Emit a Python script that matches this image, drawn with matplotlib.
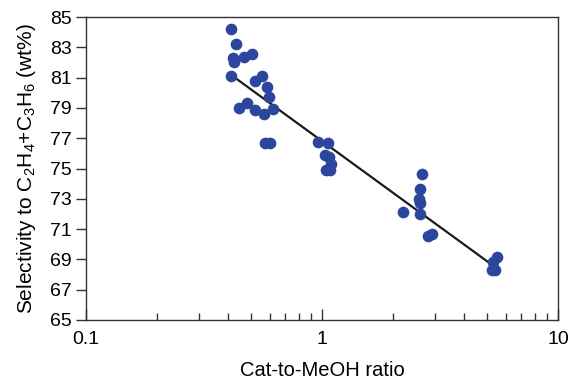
import matplotlib
matplotlib.use("Agg")
import matplotlib.pyplot as plt
import numpy as np

plt.rcParams['font.family'] = ['Liberation Sans', 'DejaVu Sans']
plt.rcParams['mathtext.default'] = 'regular'

# cat-to-MeOH ratio and selectivity (wt%)
ratio = [0.410, 0.431, 0.421, 0.425, 0.469, 0.504, 0.410, 0.520, 0.555,
         0.583, 0.598, 0.447, 0.483, 0.520, 0.568, 0.618, 0.576, 0.605,
         0.965, 1.063, 1.030, 1.097, 1.081, 1.040, 1.075,
         2.645, 2.610, 2.570, 2.610, 2.610, 2.198, 2.827, 2.925,
         5.50, 5.32, 5.24, 5.41]
selectivity = [84.21, 83.20, 82.27, 82.01, 82.34, 82.56, 81.11, 80.80, 81.13,
               80.35, 79.69, 79.01, 79.30, 78.89, 78.62, 78.93, 76.66, 76.66,
               76.78, 76.66, 75.89, 75.33, 74.90, 74.90, 75.75,
               74.62, 73.63, 72.97, 72.70, 72.02, 72.13, 70.54, 70.68,
               69.13, 68.85, 68.30, 68.27]

# trend line (log fit) over the plotted range
fit_intercept = 76.81
fit_slope = -11.34
fit_range = [0.41, 5.3]

fig = plt.figure(figsize=(5.71, 3.79), dpi=100)
ax = fig.add_axes([0.1506, 0.1557, 0.8266, 0.7994])

xf = np.logspace(np.log10(fit_range[0]), np.log10(fit_range[1]), 50)
ax.plot(xf, fit_intercept + fit_slope * np.log10(xf), color='#1a1a1a', lw=1.6, zorder=2)
ax.plot(ratio, selectivity, 'o', color='#2B469C', ms=8.4, mec='none', zorder=3)

ax.set_xscale('log')
ax.set_xlim(0.1, 10)
ax.set_ylim(65, 85)
ax.set_yticks(np.arange(65, 86, 2))
ax.set_xticks([0.1, 1, 10])
ax.set_xticklabels(['0.1', '1', '10'])

for s in ax.spines.values():
    s.set_color('#333333')
    s.set_linewidth(1.0)

ax.tick_params(axis='y', direction='out', length=7, width=1, color='#333333',
               labelsize=14, pad=3, right=False)
ax.tick_params(axis='x', which='major', direction='in', length=8, width=1,
               color='#333333', labelsize=14, pad=8, top=False)
ax.tick_params(axis='x', which='minor', direction='in', length=5, width=1,
               color='#333333', top=False)

ax.set_xlabel('Cat-to-MeOH ratio', fontsize=14.5, labelpad=9)
ax.set_ylabel('Selectivity to C$_2$H$_4$+C$_3$H$_6$ (wt%)', fontsize=15, labelpad=9)

fig.savefig('out.png', dpi=100)
